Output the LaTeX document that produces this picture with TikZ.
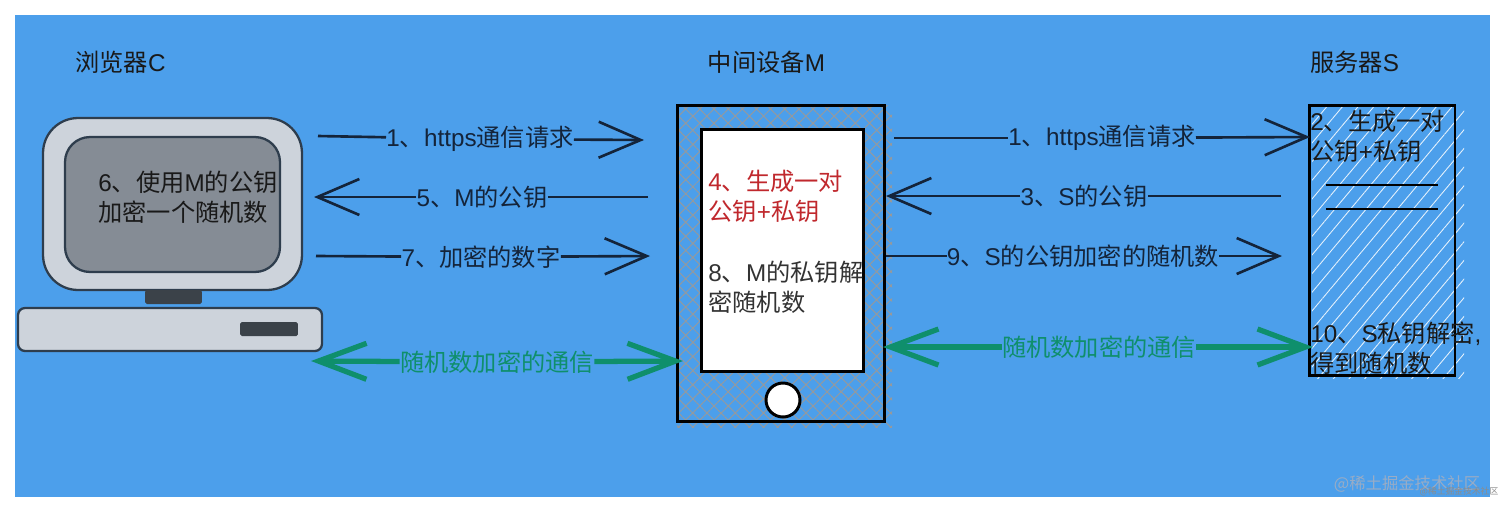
\documentclass[tikz,border=0pt]{standalone}
\usepackage{fontspec}
\setmainfont{Noto Sans CJK SC}
\newfontfamily\lat{Liberation Sans}
\usetikzlibrary{arrows.meta,patterns.meta}

\definecolor{skyblue}{HTML}{4C9FEB}
\definecolor{inkdark}{HTML}{14243A}
\definecolor{teal}{HTML}{0F8F6C}
\definecolor{redtext}{HTML}{C0282D}
\definecolor{casing}{HTML}{CDD3DB}
\definecolor{glass}{HTML}{858C95}
\definecolor{rim}{HTML}{2E3D4D}
\definecolor{knob}{HTML}{3B4249}
\definecolor{markgray}{HTML}{98ACC6}

\tikzset{
  txt/.style={inner sep=0pt,font=\fontsize{13.8}{17}\selectfont,text=black!90},
  note/.style={txt,anchor=west,align=left},
  lbl/.style={inner sep=0pt,font=\fontsize{13.8}{17}\selectfont,text=inkdark},
  greenlbl/.style={lbl,text=teal},
  arrowline/.style={>={Straight Barb[length=8.4mm,width=7.2mm]},draw=inkdark,line width=1.5pt},
  greenline/.style={>={Straight Barb[length=9.6mm,width=7.2mm]},draw=teal,line width=3pt},
  part/.style={rectangle,draw=rim,line width=1.3pt,inner sep=0pt},
  black box/.style={rectangle,draw=black,line width=1.7pt,inner sep=0pt},
}

\begin{document}
\begin{tikzpicture}[x=0.02cm,y=-0.02cm]
\useasboundingbox (0,0) rectangle (1512,512);
\fill [white] (0,0) rectangle (1512,512);
\fill [skyblue] (15,15) rectangle (1490,497);

\node (C) at (120.5,62) [txt] {浏览器{\lat C}};
\node (M) at (766.5,62) [txt] {中间设备{\lat M}};
\node (S) at (1354.5,62) [txt] {服务器{\lat S}};

\node (Monitor) at (172.5,204) [part,fill=casing,rounded corners=0.7cm,minimum width=5.18cm,minimum height=3.44cm] {};
\node (Screen) at (172.5,204.5) [part,fill=glass,rounded corners=0.5cm,minimum width=4.3cm,minimum height=2.7cm] {};
\node (Stand) at (173.5,297) [rectangle,fill=knob,rounded corners=1pt,minimum width=1.14cm,minimum height=0.28cm,inner sep=0pt] {};
\node (Base) at (170,329.5) [part,fill=casing,rounded corners=0.14cm,minimum width=6.08cm,minimum height=0.86cm] {};
\node (Slot) at (269,329) [rectangle,fill=knob,rounded corners=1pt,minimum width=1.16cm,minimum height=0.28cm,inner sep=0pt] {};
\node (T6) at (98,197) [note] {{\lat 6}、使用{\lat M}的公钥\\加密一个随机数};

\fill [pattern={Hatch[angle=45,distance=2mm,line width=0.5pt]},pattern color=black!40] (677,105) rectangle (892,427);
\node (Phone) at (781,263.5) [black box,minimum width=4.16cm,minimum height=6.34cm] {};
\node (Display) at (782.5,250.5) [black box,fill=white,minimum width=3.26cm,minimum height=4.86cm] {};
\node (Button) at (783,400) [circle,draw=black,line width=1.7pt,fill=white,minimum size=0.68cm,inner sep=0pt] {};
\node (T4) at (708,196) [note,text=redtext] {{\lat 4}、生成一对\\公钥{\lat +}私钥};
\node (T8) at (708,287.5) [note,text=black!80] {{\lat 8}、{\lat M}的私钥解\\密随机数};

\fill [pattern={Lines[angle=50,distance=2.4mm,line width=0.5pt]},pattern color=white!85!skyblue] (1312,105) rectangle (1464,378);
\node (Server) at (1382,240.5) [black box,minimum width=2.92cm,minimum height=5.42cm] {};
\coordinate (R1a) at (1326,185);
\coordinate (R1b) at (1438,185);
\coordinate (R2a) at (1326,209);
\coordinate (R2b) at (1438,209);
\draw [line width=1.5pt,black] (R1a) -- (R1b);
\draw [line width=1.5pt,black] (R2a) -- (R2b);
\node (T2) at (1310,136) [note] {{\lat 2}、生成一对\\公钥{\lat +}私钥};
\node (T10) at (1310,348) [note] {{\lat 10}、{\lat S}私钥解密{\lat ,}\\得到随机数};

\coordinate (A1s) at (318,136);
\coordinate (A1e) at (644,140);
\coordinate (A5s) at (648,197);
\coordinate (A5e) at (314,197);
\coordinate (A7s) at (316,256);
\coordinate (A7e) at (650,256);
\coordinate (B1s) at (894,138);
\coordinate (B1e) at (1310,137);
\coordinate (B3s) at (1281,196);
\coordinate (B3e) at (886,196);
\coordinate (B9s) at (886,256);
\coordinate (B9e) at (1282,256);
\coordinate (G1a) at (311,361);
\coordinate (G1b) at (683,361);
\coordinate (G2a) at (883,347);
\coordinate (G2b) at (1313,347);

\node (L1) at (480,139) [lbl] {{\lat 1}、{\lat https}通信请求};
\node (L5) at (482,197) [lbl] {{\lat 5}、{\lat M}的公钥};
\node (L7) at (481,257) [lbl] {{\lat 7}、加密的数字};
\node (R1) at (1102,138) [lbl] {{\lat 1}、{\lat https}通信请求};
\node (R3) at (1084,196) [lbl] {{\lat 3}、{\lat S}的公钥};
\node (R9) at (1083,256) [lbl] {{\lat 9}、{\lat S}的公钥加密的随机数};
\node (GL) at (497,362) [greenlbl] {随机数加密的通信};
\node (GR) at (1099,347) [greenlbl] {随机数加密的通信};

\draw [arrowline] (A1s) -- (L1);
\draw [arrowline,->] (L1) -- (A1e);
\draw [arrowline] (A5s) -- (L5);
\draw [arrowline,->] (L5) -- (A5e);
\draw [arrowline] (A7s) -- (L7);
\draw [arrowline,->] (L7) -- (A7e);
\draw [arrowline] (B1s) -- (R1);
\draw [arrowline,->] (R1) -- (B1e);
\draw [arrowline] (B3s) -- (R3);
\draw [arrowline,->] (R3) -- (B3e);
\draw [arrowline] (B9s) -- (R9);
\draw [arrowline,->] (R9) -- (B9e);
\draw [greenline,->] (GL) -- (G1a);
\draw [greenline,->] (GL) -- (G1b);
\draw [greenline,->] (GR) -- (G2a);
\draw [greenline,->] (GR) -- (G2b);

\node (Mark) at (1407,484) [inner sep=0pt,font=\fontsize{9.3}{12}\selectfont,text=markgray] {@稀土掘金技术社区};
\node (MarkSmall) at (1459,492) [inner sep=0pt,font=\fontsize{5}{6}\selectfont,text=black!45] {@稀土掘金技术社区};
\end{tikzpicture}
\end{document}
